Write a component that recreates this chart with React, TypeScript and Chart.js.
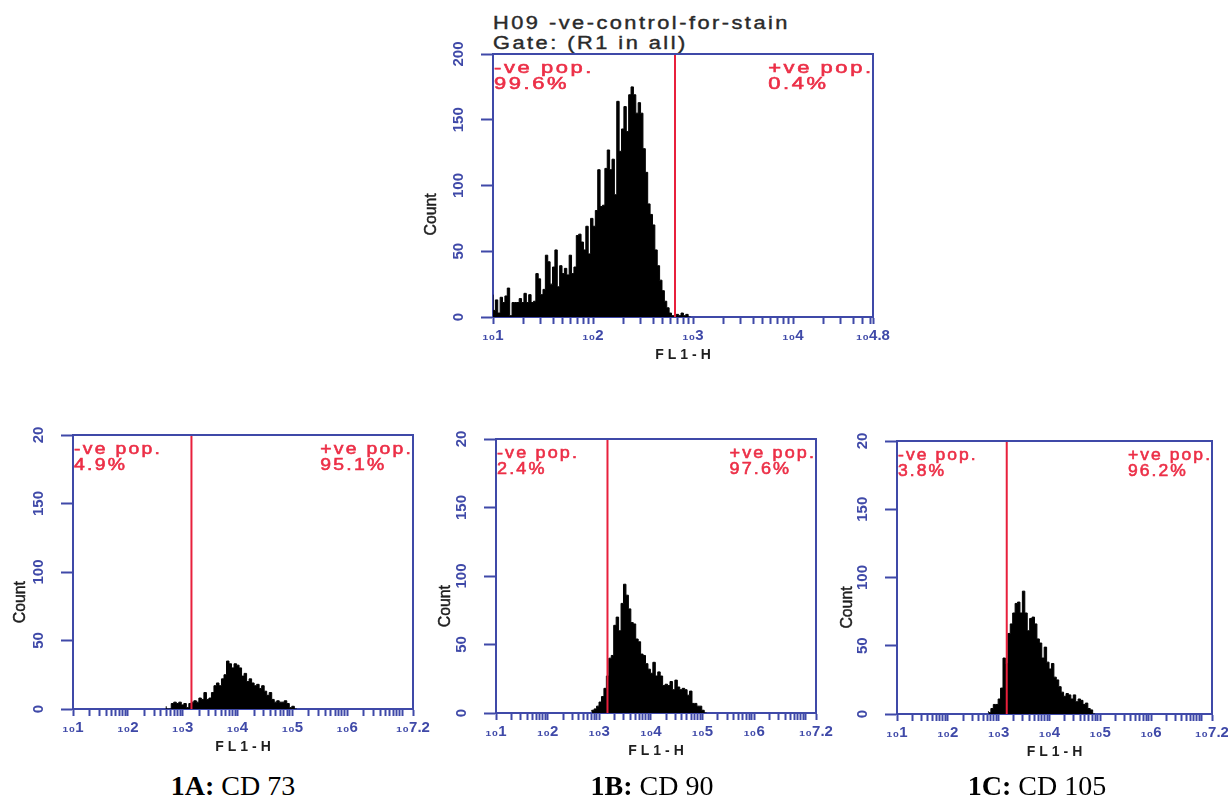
import React, { useEffect, useRef } from 'react';
import { Chart, registerables } from 'chart.js';

Chart.register(...registerables);

// ---------- colours ----------
const BLUE = '#3f49a8';
const RED_LINE = '#e8203c';
const RED_TEXT = '#ec2f47';
const INK = '#1e1e1e';

// ---------- top panel: negative control ----------
const TOP_TITLE = 'H09 -ve-control-for-stain';
const TOP_SUBTITLE = 'Gate: (R1 in all)';
const TOP_START = 1.0; // log10 of first channel
const TOP_BIN = 0.0238; // log10 width of a channel bin
const TOP_COUNTS = [
  17, 5, 13, 3, 15, 11, 16, 22, 1, 11,
  11, 11, 14, 11, 18, 11, 17, 11, 12, 33,
  29, 17, 21, 47, 42, 25, 38, 51, 23, 39,
  33, 37, 32, 47, 33, 38, 62, 63, 57, 51,
  69, 48, 75, 69, 81, 112, 84, 85, 113, 127,
  112, 120, 93, 164, 126, 143, 160, 141, 169, 175,
  169, 155, 163, 155, 128, 110, 86, 78, 70, 51,
  39, 28, 20, 12, 7, 3, 1, 0, 2, 1, 3, 1, 2,
];
const TOP_GATE = 2.82;
const TOP_X_MAX = 4.8;
const TOP_X_TICK_VALUES = [1, 2, 3, 4, 4.8];
const TOP_X_TICK_LABELS = ['1', '2', '3', '4', '4.8'];
const TOP_Y_LABELS = ['0', '50', '100', '150', '200'];
const TOP_NEG = ['-ve pop.', '99.6%'];
const TOP_POS = ['+ve pop.', '0.4%'];

// ---------- bottom panels ----------
const BOTTOM_X_MAX = 7.2;
const BOTTOM_X_TICK_VALUES = [1, 2, 3, 4, 5, 6, 7.2];
const BOTTOM_X_TICK_LABELS = ['1', '2', '3', '4', '5', '6', '7.2'];
const BOTTOM_Y_LABELS = ['0', '50', '100', '150', '20'];
const BOTTOM_GATE = 3.16;

// 1A: CD 73
const CD73_START = 2.7;
const CD73_BIN = 0.0458;
const CD73_COUNTS = [
  2, 0, 0, 4, 5, 4, 5, 3, 4, 1,
  4, 5, 6, 5, 8, 7, 12, 7, 8, 12,
  17, 19, 17, 22, 25, 35, 33, 30, 33, 32,
  30, 24, 26, 20, 22, 19, 17, 18, 15, 17,
  13, 10, 12, 7, 5, 6, 5, 5, 6, 4, 1, 2,
];
const CD73_NEG = ['-ve pop.', '4.9%'];
const CD73_POS = ['+ve pop.', '95.1%'];

// 1B: CD 90
const CD90_START = 2.854;
const CD90_BIN = 0.0474;
const CD90_COUNTS = [
  1, 2, 3, 5, 8, 12, 18, 27, 40, 42,
  64, 70, 60, 80, 94, 86, 76, 66, 65, 54,
  52, 43, 42, 36, 32, 29, 37, 27, 30, 27,
  20, 21, 20, 23, 17, 24, 19, 17, 18, 17,
  13, 16, 7, 7, 5, 5, 2,
];
const CD90_NEG = ['-ve pop.', '2.4%'];
const CD90_POS = ['+ve pop.', '97.6%'];

// 1C: CD 105
const CD105_START = 2.8;
const CD105_BIN = 0.0477;
const CD105_COUNTS = [
  2, 1, 4, 7, 7, 11, 19, 41, 37, 59,
  66, 74, 81, 82, 74, 90, 74, 61, 70, 71,
  66, 55, 52, 41, 49, 38, 33, 37, 27, 25,
  20, 16, 13, 15, 14, 11, 14, 9, 11, 10,
  7, 8, 4, 3,
];
const CD105_NEG = ['-ve pop.', '3.8%'];
const CD105_POS = ['+ve pop.', '96.2%'];

const X_TITLE = 'FL1-H';
const Y_TITLE = 'Count';
const CAPTION_IDS = ['1A', '1B', '1C'];
const CAPTION_NAMES = ['CD 73', 'CD 90', 'CD 105'];

// ---------- helpers ----------
function logTicks(min: number, max: number) {
  const t: { value: number }[] = [];
  for (let d = Math.floor(min); d < max; d++) {
    for (let k = 1; k <= 9; k++) {
      const v = d + Math.log10(k);
      if (v >= min - 1e-9 && v < max - 1e-6) t.push({ value: v });
    }
  }
  t.push({ value: max });
  return t;
}

type Box = { left: number; top: number; width: number; height: number };
type Panel = {
  box: Box;
  yW: number;
  xH: number;
  padTop: number;
  padRight: number;
  counts: number[];
  start: number;
  bin: number;
  gate: number;
  xMax: number;
  xTickValues: number[];
  xTickLabels: string[];
  yLabels: string[];
  neg: string[];
  pos: string[];
  stretch: number;
  countOffset: number;
};

function HistCanvas({ p }: { p: Panel }) {
  const ref = useRef<HTMLCanvasElement | null>(null);
  useEffect(() => {
    if (!ref.current) return;
    const pts = p.counts.map((c, i) => ({ x: p.start + i * p.bin, y: c }));
    pts.push({ x: p.start + p.counts.length * p.bin, y: 0 });

    const overlay = {
      id: 'overlay',
      afterDatasetsDraw(chart: any) {
        const { ctx, chartArea: a, scales } = chart;
        ctx.save();
        // gate line
        const gx = scales.x.getPixelForValue(p.gate);
        ctx.strokeStyle = RED_LINE;
        ctx.lineWidth = 2;
        ctx.beginPath();
        ctx.moveTo(gx, a.top);
        ctx.lineTo(gx, a.bottom);
        ctx.stroke();
        // top and right frame
        ctx.strokeStyle = BLUE;
        ctx.lineWidth = 2;
        ctx.beginPath();
        ctx.moveTo(a.left - 1, a.top);
        ctx.lineTo(a.right, a.top);
        ctx.lineTo(a.right, a.bottom + 1);
        ctx.stroke();
        // gate labels
        ctx.fillStyle = RED_TEXT;
        ctx.strokeStyle = RED_TEXT;
        ctx.lineWidth = 0.6;
        ctx.font = '17px "Liberation Sans", Arial, sans-serif';
        ctx.textAlign = 'left';
        ctx.textBaseline = 'alphabetic';
        (ctx as any).letterSpacing = '2px';
        const s = p.stretch;
        const draw = (t: string, x: number, y: number) => {
          ctx.save();
          ctx.translate(x, y);
          ctx.scale(s, 1);
          ctx.fillText(t, 0, 0);
          ctx.strokeText(t, 0, 0);
          ctx.restore();
        };
        draw(p.neg[0], a.left + 1, a.top + 18.7);
        draw(p.neg[1], a.left + 1, a.top + 35.3);
        const w = (ctx.measureText(p.pos[0]).width - 2) * s;
        const px = a.right - 2 - w;
        draw(p.pos[0], px, a.top + 18.7);
        draw(p.pos[1], px, a.top + 35.3);
        ctx.restore();
      },
      afterDraw(chart: any) {
        const { ctx, chartArea: a } = chart;
        ctx.save();
        ctx.fillStyle = INK;
        ctx.strokeStyle = INK;
        // y title
        ctx.save();
        ctx.translate(a.left - p.countOffset, a.top + 0.61 * (a.bottom - a.top));
        ctx.rotate(-Math.PI / 2);
        ctx.scale(0.93, 1);
        ctx.font = '17px "Liberation Sans", Arial, sans-serif';
        ctx.textAlign = 'center';
        ctx.textBaseline = 'middle';
        ctx.lineWidth = 0.5;
        ctx.fillText(Y_TITLE, 0, 0);
        ctx.strokeText(Y_TITLE, 0, 0);
        ctx.restore();
        // x title
        ctx.font = 'bold 14px "Liberation Sans", Arial, sans-serif';
        (ctx as any).letterSpacing = '4px';
        ctx.textAlign = 'center';
        ctx.textBaseline = 'middle';
        ctx.fillText(X_TITLE, (a.left + a.right) / 2 + 2, a.bottom + 38.5);
        ctx.restore();
      },
    };

    const chart = new Chart(ref.current, {
      type: 'line',
      data: {
        datasets: [
          {
            data: pts,
            stepped: 'after',
            fill: 'origin',
            backgroundColor: '#000',
            borderColor: '#000',
            borderWidth: 1,
            pointRadius: 0,
            tension: 0,
          } as any,
        ],
      },
      options: {
        responsive: false,
        animation: false,
        events: [],
        layout: { padding: { top: p.padTop, right: p.padRight, left: 0, bottom: 0 } },
        plugins: {
          legend: { display: false },
          tooltip: { enabled: false },
          title: { display: false },
        },
        scales: {
          x: {
            type: 'linear',
            position: 'bottom',
            min: 1,
            max: p.xMax,
            border: { display: true, color: BLUE, width: 2 },
            grid: {
              display: true,
              drawOnChartArea: false,
              drawTicks: true,
              tickLength: 7,
              color: BLUE,
              tickColor: BLUE,
              tickWidth: 2,
            },
            ticks: {
              autoSkip: false,
              maxRotation: 0,
              minRotation: 0,
              padding: 3,
              color: BLUE,
              font: { family: '"Liberation Sans", "DejaVu Sans", sans-serif', size: 15, weight: 'bold' },
              callback: (v: any) => {
                const val = Number(v);
                const idx = p.xTickValues.findIndex((t) => Math.abs(t - val) < 1e-6);
                return idx >= 0 ? '\u2081\u2080' + p.xTickLabels[idx] : '';
              },
            },
            afterBuildTicks: (s: any) => {
              s.ticks = logTicks(1, p.xMax);
            },
            afterFit: (s: any) => {
              s.height = p.xH;
              s.paddingLeft = 0;
              s.paddingRight = 0;
            },
          } as any,
          y: {
            type: 'linear',
            position: 'left',
            min: 0,
            max: 200,
            border: { display: true, color: BLUE, width: 2 },
            grid: {
              display: true,
              drawOnChartArea: false,
              drawTicks: true,
              tickLength: 12,
              color: BLUE,
              tickColor: BLUE,
              tickWidth: 2,
            },
            ticks: {
              stepSize: 50,
              minRotation: 90,
              maxRotation: 90,
              crossAlign: 'center',
              padding: 10,
              color: BLUE,
              font: { family: '"Liberation Sans Narrow", "Liberation Sans", Arial, sans-serif', size: 15, weight: 'bold' },
              callback: (_v: any, i: number) => p.yLabels[i],
            },
            afterFit: (s: any) => {
              s.width = p.yW;
              s.paddingTop = 0;
              s.paddingBottom = 0;
            },
          } as any,
        },
      },
      plugins: [overlay],
    });
    return () => chart.destroy();
  }, [p]);

  return (
    <canvas
      ref={ref}
      width={p.box.width}
      height={p.box.height}
      style={{
        position: 'absolute',
        left: p.box.left,
        top: p.box.top,
        width: p.box.width,
        height: p.box.height,
      }}
    />
  );
}

const PANELS: Panel[] = [
  {
    box: { left: 405, top: 40, width: 490, height: 330 },
    yW: 88, xH: 53, padTop: 14, padRight: 22,
    counts: TOP_COUNTS, start: TOP_START, bin: TOP_BIN, gate: TOP_GATE,
    xMax: TOP_X_MAX, xTickValues: TOP_X_TICK_VALUES, xTickLabels: TOP_X_TICK_LABELS,
    yLabels: TOP_Y_LABELS, neg: TOP_NEG, pos: TOP_POS, stretch: 1.29, countOffset: 61.5,
  },
  {
    box: { left: 0, top: 425, width: 440, height: 345 },
    yW: 73, xH: 61, padTop: 10, padRight: 27,
    counts: CD73_COUNTS, start: CD73_START, bin: CD73_BIN, gate: BOTTOM_GATE,
    xMax: BOTTOM_X_MAX, xTickValues: BOTTOM_X_TICK_VALUES, xTickLabels: BOTTOM_X_TICK_LABELS,
    yLabels: BOTTOM_Y_LABELS, neg: CD73_NEG, pos: CD73_POS, stretch: 1.14, countOffset: 53,
  },
  {
    box: { left: 425, top: 429, width: 420, height: 345 },
    yW: 71, xH: 61, padTop: 10, padRight: 29,
    counts: CD90_COUNTS, start: CD90_START, bin: CD90_BIN, gate: BOTTOM_GATE,
    xMax: BOTTOM_X_MAX, xTickValues: BOTTOM_X_TICK_VALUES, xTickLabels: BOTTOM_X_TICK_LABELS,
    yLabels: BOTTOM_Y_LABELS, neg: CD90_NEG, pos: CD90_POS, stretch: 1.06, countOffset: 50.5,
  },
  {
    box: { left: 830, top: 431, width: 398, height: 345 },
    yW: 67, xH: 62, padTop: 10, padRight: 16,
    counts: CD105_COUNTS, start: CD105_START, bin: CD105_BIN, gate: BOTTOM_GATE,
    xMax: BOTTOM_X_MAX, xTickValues: BOTTOM_X_TICK_VALUES, xTickLabels: BOTTOM_X_TICK_LABELS,
    yLabels: BOTTOM_Y_LABELS, neg: CD105_NEG, pos: CD105_POS, stretch: 1.03, countOffset: 50,
  },
];

const CAPTION_CENTERS = [233, 652, 1037];

export default function App() {
  return (
    <div
      style={{
        position: 'absolute',
        left: 0,
        top: 0,
        width: 1228,
        height: 799,
        overflow: 'hidden',
        background: '#fff',
      }}
    >
      <div
        style={{
          position: 'absolute',
          left: 493,
          top: 13,
          fontFamily: '"Liberation Sans", Arial, sans-serif',
          fontSize: '17.5px',
          lineHeight: '20px',
          letterSpacing: '2px',
          transform: 'scaleX(1.244)',
          transformOrigin: 'left top',
          whiteSpace: 'nowrap',
          color: '#2a2a2a',
          WebkitTextStroke: '0.4px #2a2a2a',
        }}
      >
        <div>{TOP_TITLE}</div>
        <div>{TOP_SUBTITLE}</div>
      </div>
      {PANELS.map((p, i) => (
        <HistCanvas key={i} p={p} />
      ))}
      {CAPTION_IDS.map((id, i) => (
        <div
          key={id}
          style={{
            position: 'absolute',
            left: CAPTION_CENTERS[i] - 150,
            width: 300,
            top: 772,
            textAlign: 'center',
            fontFamily: '"Liberation Serif", "Times New Roman", serif',
            fontSize: '28px',
            lineHeight: '27px',
            color: '#000',
            whiteSpace: 'nowrap',
          }}
        >
          <b>{id}:</b> {CAPTION_NAMES[i]}
        </div>
      ))}
    </div>
  );
}
